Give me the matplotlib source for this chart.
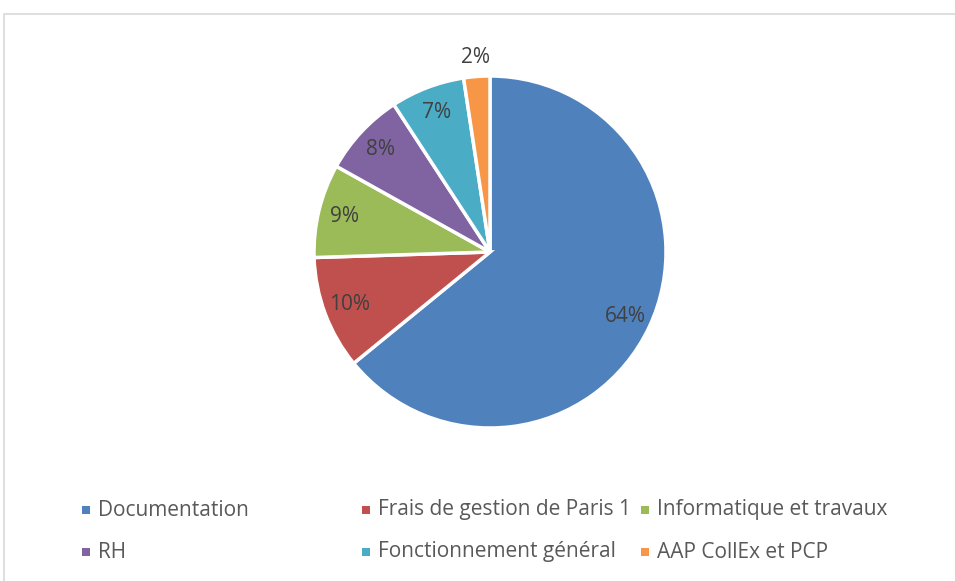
import numpy as np
import matplotlib
matplotlib.use("Agg")
import matplotlib.pyplot as plt
from matplotlib.patches import Rectangle

categories = ["Documentation", "Frais de gestion de Paris 1", "Informatique et travaux",
              "RH", "Fonctionnement général", "AAP CollEx et PCP"]
values = [64.1, 10.4, 8.6, 7.7, 6.8, 2.4]
colors = ["#4F81BD", "#C0504D", "#9BBB59", "#8064A2", "#4BACC6", "#F79646"]

plt.rcParams['font.family'] = ['Open Sans', 'DejaVu Sans']

W, H = 955, 581
fig = plt.figure(figsize=(W / 100, H / 100), dpi=100)

# chart frame
fig.patches.append(Rectangle((4 / W, -0.01), 1.0, (H - 14) / H + 0.01, transform=fig.transFigure,
                             fill=False, edgecolor="#D9D9D9", linewidth=1.2))

cx, cy, r = 490, 252, 176
ax = fig.add_axes([(cx - r) / W, (H - cy - r) / H, 2 * r / W, 2 * r / H])
wedges, texts, autotexts = ax.pie(values, colors=colors, startangle=90, counterclock=False,
                                  autopct=lambda p: "{:.0f}%".format(p), pctdistance=0.85,
                                  wedgeprops=dict(edgecolor="white", linewidth=2.5),
                                  textprops=dict(color="#404040", fontsize=15))
ax.set_xlim(-1, 1)
ax.set_ylim(-1, 1)
ax.set_aspect("auto")
ax.axis("off")

# small slice label outside
w = wedges[-1]
ang = np.deg2rad((w.theta1 + w.theta2) / 2)
autotexts[-1].set_position((1.11 * np.cos(ang), 1.11 * np.sin(ang)))

# legend, Excel style grid
col_x = [86, 366, 645]
row_y = [510, 552]
for i, (lab, c) in enumerate(zip(categories, colors)):
    x = col_x[i % 3]
    y = row_y[i // 3]
    fig.patches.append(Rectangle(((x - 4) / W, (H - y - 4) / H), 8 / W, 8 / H,
                                 transform=fig.transFigure, facecolor=c, edgecolor="none"))
    fig.text((x + 12) / W, (H - y) / H, lab, fontsize=15, color="#595959", va="center", ha="left")

fig.savefig("out.png", dpi=100)
